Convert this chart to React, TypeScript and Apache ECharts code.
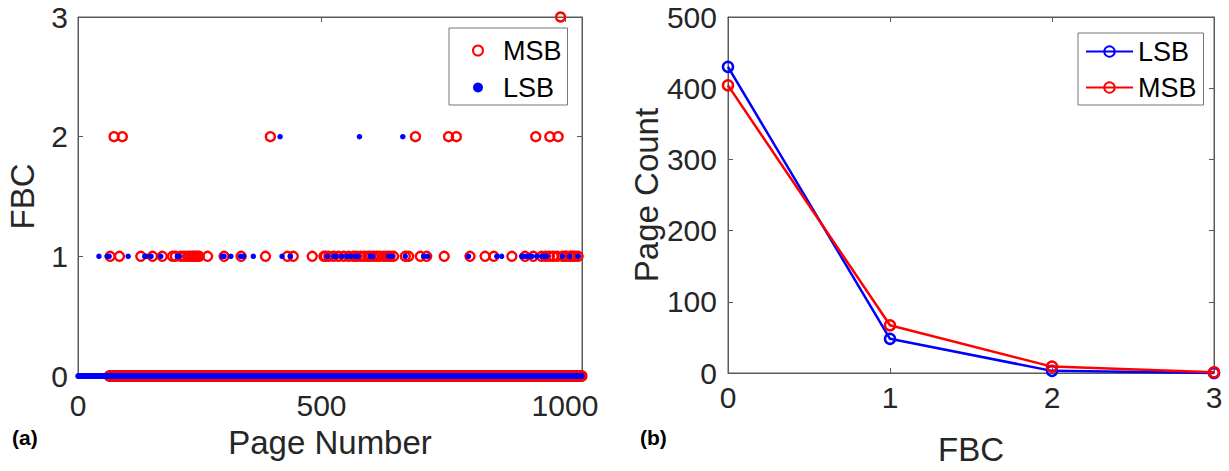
import React, { useEffect, useRef } from "react";
import * as echarts from "echarts";

// ---------- Data ----------
// Panel (a): FBC per page
const PAGE_FIRST_LSB = 0;
const PAGE_FIRST_MSB = 64;
const PAGE_LAST = 1035;
const X_TICKS_A = [0, 500, 1000];
const Y_TICKS_A = [0, 1, 2, 3];

const LSB_FBC1_PAGES = [
  43, 60, 64, 103, 137, 140, 150, 170, 204, 208, 296, 300, 314, 334, 340, 360,
  419, 436, 512, 525, 530, 542, 553, 560, 570, 575, 600, 605, 638, 645, 672,
  710, 718, 802, 860, 870, 911, 915, 921, 927, 932, 942, 952, 957, 962, 995,
  1010, 1027,
];
const LSB_FBC2_PAGES = [415, 578, 667];

const MSB_FBC1_PAGES = [
  66, 85, 129, 153, 173, 194, 200, 211, 218, 225, 230, 235, 238, 242, 245, 249,
  266, 300, 335, 385, 430, 442, 481, 505, 508, 515, 525, 535, 546, 556, 566,
  572, 580, 588, 595, 600, 607, 614, 620, 628, 635, 641, 648, 672, 679, 703,
  716, 752, 805, 836, 854, 891, 918, 935, 952, 960, 968, 976, 984, 995, 1000,
  1003, 1010, 1013, 1017, 1021, 1027,
];
const MSB_FBC2_PAGES = [74, 91, 395, 693, 761, 777, 940, 969, 986];
const MSB_FBC3_PAGES = [991];

// Panel (b): page count per FBC
const FBC_LEVELS = [0, 1, 2, 3];
const LSB_COUNTS = [430, 48, 3, 0];
const MSB_COUNTS = [404, 67, 9, 1];
const Y_TICKS_B = [0, 100, 200, 300, 400, 500];

// ---------- helpers ----------
function pagePoints(
  first: number,
  last: number,
  lists: { fbc: number; pages: number[] }[]
): number[][] {
  const fbcOf = new Map<number, number>();
  lists.forEach((l) => l.pages.forEach((p) => fbcOf.set(p, l.fbc)));
  const pts: number[][] = [];
  for (let p = first; p <= last; p++) {
    pts.push([p, fbcOf.has(p) ? (fbcOf.get(p) as number) : 0]);
  }
  return pts;
}

const RED = "#ff0000";
const BLUE = "#0000ff";
const TXT = "#262626";
const AX = "#5a5a5a";
const FONT = "Liberation Sans, Arial, Helvetica, sans-serif";

export default function App() {
  const ref = useRef<HTMLDivElement>(null);

  useEffect(() => {
    if (!ref.current) return;
    const chart = echarts.init(ref.current, undefined, { renderer: "svg" });

    const msbPts = pagePoints(PAGE_FIRST_MSB, PAGE_LAST, [
      { fbc: 1, pages: MSB_FBC1_PAGES },
      { fbc: 2, pages: MSB_FBC2_PAGES },
      { fbc: 3, pages: MSB_FBC3_PAGES },
    ]);
    const lsbPts = pagePoints(PAGE_FIRST_LSB, PAGE_LAST, [
      { fbc: 1, pages: LSB_FBC1_PAGES },
      { fbc: 2, pages: LSB_FBC2_PAGES },
    ]);

    const tickStyle = { show: true, inside: true, length: 5, lineStyle: { color: AX, width: 1 } };
    const lineStyle = { show: true, onZero: false, lineStyle: { color: AX, width: 1 } };
    const labelStyle = (margin: number) => ({
      fontSize: 30,
      color: TXT,
      fontFamily: FONT,
      margin,
      formatter: (v: number) => String(v),
    });
    const nameStyle = { fontSize: 33, color: TXT, fontFamily: FONT };

    const option: any = {
      animation: false,
      textStyle: { fontFamily: FONT },
      grid: [
        { left: 78, top: 17, width: 504, height: 359, show: true, borderColor: AX, borderWidth: 1 },
        { left: 728, top: 17, width: 486, height: 364, show: true, borderColor: AX, borderWidth: 1 },
      ],
      xAxis: [
        {
          gridIndex: 0,
          type: "value",
          min: X_TICKS_A[0],
          max: PAGE_LAST,
          interval: X_TICKS_A[1] - X_TICKS_A[0],
          axisLine: lineStyle,
          axisTick: tickStyle,
          axisLabel: { ...labelStyle(14), showMaxLabel: false },
          splitLine: { show: false },
          name: "Page Number",
          nameLocation: "middle",
          nameGap: 50,
          nameTextStyle: nameStyle,
        },
        {
          gridIndex: 0,
          type: "value",
          position: "top",
          min: X_TICKS_A[0],
          max: PAGE_LAST,
          interval: X_TICKS_A[1] - X_TICKS_A[0],
          axisLine: lineStyle,
          axisTick: tickStyle,
          axisLabel: { show: false },
          splitLine: { show: false },
        },
        {
          gridIndex: 1,
          type: "value",
          min: FBC_LEVELS[0],
          max: FBC_LEVELS[FBC_LEVELS.length - 1],
          interval: 1,
          axisLine: lineStyle,
          axisTick: tickStyle,
          axisLabel: labelStyle(9),
          splitLine: { show: false },
          name: "FBC",
          nameLocation: "middle",
          nameGap: 60,
          nameTextStyle: nameStyle,
        },
        {
          gridIndex: 1,
          type: "value",
          position: "top",
          min: FBC_LEVELS[0],
          max: FBC_LEVELS[FBC_LEVELS.length - 1],
          interval: 1,
          axisLine: lineStyle,
          axisTick: tickStyle,
          axisLabel: { show: false },
          splitLine: { show: false },
        },
      ],
      yAxis: [
        {
          gridIndex: 0,
          type: "value",
          min: Y_TICKS_A[0],
          max: Y_TICKS_A[Y_TICKS_A.length - 1],
          interval: 1,
          axisLine: lineStyle,
          axisTick: tickStyle,
          axisLabel: labelStyle(10),
          splitLine: { show: false },
          name: "FBC",
          nameLocation: "middle",
          nameGap: 39,
          nameTextStyle: nameStyle,
        },
        {
          gridIndex: 0,
          type: "value",
          position: "right",
          min: Y_TICKS_A[0],
          max: Y_TICKS_A[Y_TICKS_A.length - 1],
          interval: 1,
          axisLine: lineStyle,
          axisTick: tickStyle,
          axisLabel: { show: false },
          splitLine: { show: false },
        },
        {
          gridIndex: 1,
          type: "value",
          min: Y_TICKS_B[0],
          max: Y_TICKS_B[Y_TICKS_B.length - 1],
          interval: Y_TICKS_B[1] - Y_TICKS_B[0],
          axisLine: lineStyle,
          axisTick: tickStyle,
          axisLabel: labelStyle(11),
          splitLine: { show: false },
          name: "Page Count",
          nameLocation: "middle",
          nameGap: 62,
          nameTextStyle: nameStyle,
        },
        {
          gridIndex: 1,
          type: "value",
          position: "right",
          min: Y_TICKS_B[0],
          max: Y_TICKS_B[Y_TICKS_B.length - 1],
          interval: Y_TICKS_B[1] - Y_TICKS_B[0],
          axisLine: lineStyle,
          axisTick: tickStyle,
          axisLabel: { show: false },
          splitLine: { show: false },
        },
      ],
      legend: [
        {
          data: ["MSB", "LSB"],
          orient: "vertical",
          left: 449,
          top: 28,
          itemWidth: 40,
          itemHeight: 10,
          itemGap: 10,
          padding: [9, 6, 4, 23],
          borderColor: "#777",
          borderWidth: 1,
          backgroundColor: "#fff",
          textStyle: { fontSize: 27, color: "#000", fontFamily: FONT },
        },
        {
          data: ["LSB-count", "MSB-count"],
          formatter: (n: string) => n.replace("-count", ""),
          orient: "vertical",
          left: 1078,
          top: 33,
          itemWidth: 47,
          itemHeight: 13,
          itemGap: 9,
          padding: [5, 7, 4, 7],
          borderColor: "#777",
          borderWidth: 1,
          backgroundColor: "#fff",
          textStyle: { fontSize: 27, color: "#000", fontFamily: FONT },
        },
      ],
      graphic: [
        {
          type: "text",
          left: 12,
          top: 427,
          style: { text: "(a)", fontSize: 21, fontWeight: "bold", fill: "#000", fontFamily: FONT },
        },
        {
          type: "text",
          left: 640,
          top: 427,
          style: { text: "(b)", fontSize: 21, fontWeight: "bold", fill: "#000", fontFamily: FONT },
        },
      ],
      series: [
        {
          name: "MSB",
          type: "scatter",
          xAxisIndex: 0,
          yAxisIndex: 0,
          symbol: "circle",
          symbolSize: 9,
          itemStyle: { color: "rgba(0,0,0,0)", borderColor: RED, borderWidth: 2.4, opacity: 1 },
          data: msbPts,
          clip: false,
          z: 2,
        },
        {
          name: "LSB",
          type: "scatter",
          xAxisIndex: 0,
          yAxisIndex: 0,
          symbol: "circle",
          symbolSize: 5.5,
          itemStyle: { color: BLUE, borderWidth: 0, opacity: 1 },
          data: lsbPts,
          clip: false,
          z: 3,
        },
        {
          name: "LSB-count",
          type: "line",
          xAxisIndex: 2,
          yAxisIndex: 2,
          symbol: "circle",
          symbolSize: 10,
          showSymbol: true,
          clip: false,
          lineStyle: { color: BLUE, width: 2.5 },
          itemStyle: { color: "rgba(0,0,0,0)", borderColor: BLUE, borderWidth: 2.5 },
          data: FBC_LEVELS.map((f, i) => [f, LSB_COUNTS[i]]),
          z: 2,
        },
        {
          name: "MSB-count",
          type: "line",
          xAxisIndex: 2,
          yAxisIndex: 2,
          symbol: "circle",
          symbolSize: 10,
          showSymbol: true,
          clip: false,
          lineStyle: { color: RED, width: 2.5 },
          itemStyle: { color: "rgba(0,0,0,0)", borderColor: RED, borderWidth: 2.5 },
          data: FBC_LEVELS.map((f, i) => [f, MSB_COUNTS[i]]),
          z: 3,
        },
      ],
    };

    chart.setOption(option);
    return () => chart.dispose();
  }, []);

  return (
    <div
      ref={ref}
      style={{ position: "fixed", left: 0, top: 0, width: 1229, height: 471, background: "#fff" }}
    />
  );
}
